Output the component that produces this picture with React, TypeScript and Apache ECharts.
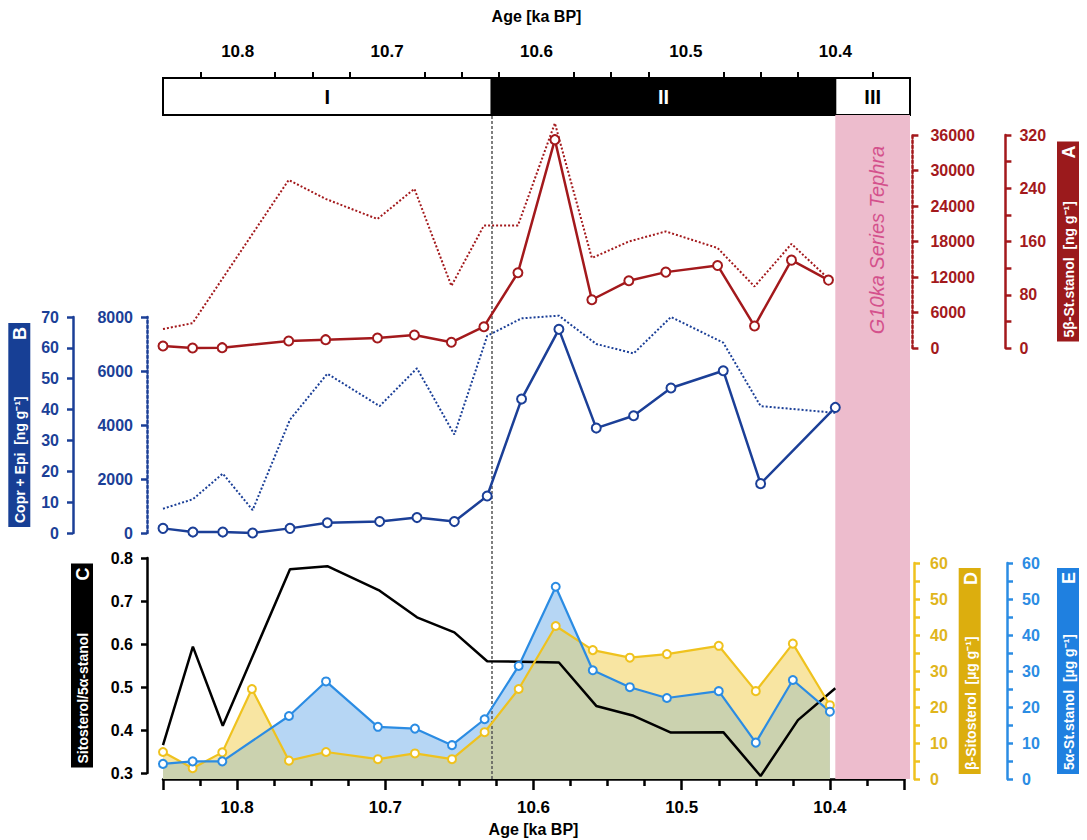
import React, { useEffect, useRef } from 'react';
import * as echarts from 'echarts';

const FONT = "'Liberation Sans', Arial, sans-serif";

// ---- axis / layout constants (data-related) ----
const X_MIN = 10.35;
const X_MAX = 10.85;
const MAJOR_TICKS = [10.85, 10.8, 10.7, 10.6, 10.5, 10.4, 10.35];
const MINOR_TICKS = [10.825, 10.775, 10.75, 10.725, 10.675, 10.65, 10.625, 10.575, 10.55, 10.525, 10.475, 10.45, 10.425, 10.375];
const AGE_LABELS = [10.8, 10.7, 10.6, 10.5, 10.4];

const PHASE_NAMES = ['I', 'II', 'III'];
const PHASE_BOUNDS = [10.85, 10.63, 10.4, 10.35];
const TEPHRA = [10.4, 10.35];
const BOUNDARY_AGE = 10.63;

// ---- panel A (red) ----
const AGE_A = [10.85, 10.83, 10.81, 10.765, 10.74, 10.705, 10.68, 10.655, 10.633, 10.61, 10.585, 10.56, 10.535, 10.51, 10.475, 10.45, 10.425, 10.4];
const STANOL_5B = [3, 0, 0.5, 10.5, 12.5, 15, 19.5, 8.6, 32, 113, 313, 72.5, 101, 114, 124, 33, 132, 102];
const AGE_A_DOT = [10.85, 10.83, 10.765, 10.74, 10.705, 10.68, 10.655, 10.633, 10.61, 10.585, 10.56, 10.535, 10.51, 10.475, 10.45, 10.425, 10.4];
const STANOL_5B_DOT = [3200, 4200, 28400, 25200, 21800, 26900, 10500, 20700, 20700, 38000, 15200, 18000, 19700, 16900, 10400, 17600, 11700];

// ---- panel B (navy) ----
const AGE_B = [10.85, 10.83, 10.81, 10.79, 10.765, 10.74, 10.705, 10.68, 10.655, 10.633, 10.61, 10.585, 10.56, 10.535, 10.51, 10.475, 10.45, 10.4];
const COPR_EPI = [1.5, 0.3, 0.3, 0, 1.5, 3.3, 3.7, 5, 3.7, 12, 43.4, 66, 34, 38, 47, 52.6, 16, 40.7];
const COPR_EPI_DOT = [900, 1250, 2200, 850, 4200, 5900, 4700, 6100, 3650, 7300, 7950, 8050, 7000, 6650, 8000, 7050, 4700, 4450];

// ---- panel C (ratio) ----
const AGE_C = [10.85, 10.83, 10.81, 10.765, 10.74, 10.705, 10.68, 10.655, 10.633, 10.585, 10.56, 10.535, 10.51, 10.475, 10.45, 10.425, 10.4];
const RATIO = [0.365, 0.594, 0.41, 0.774, 0.781, 0.724, 0.662, 0.627, 0.56, 0.557, 0.456, 0.433, 0.394, 0.395, 0.293, 0.423, 0.497];

// ---- panel D (β-sitosterol) ----
const AGE_D = [10.85, 10.83, 10.81, 10.79, 10.765, 10.74, 10.705, 10.68, 10.655, 10.633, 10.61, 10.585, 10.56, 10.535, 10.51, 10.475, 10.45, 10.425, 10.4];
const SITOSTEROL = [7.5, 3, 7.4, 25, 5.1, 7.5, 5.5, 7.1, 5.5, 13, 25, 42.5, 35.8, 33.7, 34.7, 37, 24.4, 37.6, 20.5];

// ---- panel E (5α-stanol) ----
const AGE_E = [10.85, 10.83, 10.81, 10.765, 10.74, 10.705, 10.68, 10.655, 10.633, 10.61, 10.585, 10.56, 10.535, 10.51, 10.475, 10.45, 10.425, 10.4];
const STANOL_5A = [4.2, 4.9, 4.9, 17.5, 27.1, 14.5, 14, 9.4, 16.6, 31.4, 53.4, 30.2, 25.5, 22.5, 24.4, 10.1, 27.5, 18.7];

const RED = '#a3191c';
const NAVY = '#1b3f97';
const YEL = '#efc21e';
const YEL_TXT = '#e0b51c';
const SKY = '#2b8ce3';

const pairs = (xs: number[], ys: number[]) => xs.map((x, i) => [x, ys[i]]);

// Outline of the region that lies under both filled curves (used only to colour the overlap)
function valueAt(xs: number[], ys: number[], x: number) {
  for (let i = 0; i < xs.length - 1; i++) {
    const a = xs[i], b = xs[i + 1];
    if ((x <= a && x >= b) || (x >= a && x <= b)) {
      if (a === b) return ys[i];
      return ys[i] + ((x - a) / (b - a)) * (ys[i + 1] - ys[i]);
    }
  }
  return ys[ys.length - 1];
}
function overlapOutline(xa: number[], ya: number[], xb: number[], yb: number[]) {
  const xs = Array.from(new Set([...xa, ...xb])).sort((p, q) => q - p);
  const out: number[][] = [];
  for (let i = 0; i < xs.length; i++) {
    const x0 = xs[i];
    const a0 = valueAt(xa, ya, x0), b0 = valueAt(xb, yb, x0);
    out.push([x0, Math.min(a0, b0)]);
    if (i < xs.length - 1) {
      const x1 = xs[i + 1];
      const a1 = valueAt(xa, ya, x1), b1 = valueAt(xb, yb, x1);
      const d0 = a0 - b0, d1 = a1 - b1;
      if (d0 * d1 < 0) {
        const t = d0 / (d0 - d1);
        out.push([x0 + t * (x1 - x0), a0 + t * (a1 - a0)]);
      }
    }
  }
  return out;
}

const GRID_LR = { left: 163, right: 177 };

function hiddenX(gridIndex: number) {
  return { type: 'value', gridIndex, min: X_MIN, max: X_MAX, inverse: true, show: false, splitLine: { show: false } };
}

function boxName(text: string, letter: string, bg: string, textW: number) {
  return {
    name: `{t|${text}}{l|${letter}}`,
    nameLocation: 'middle',
    nameRotate: 90,
    nameTextStyle: {
      backgroundColor: bg,
      padding: [3, 4, 1, 4],
      rich: {
        t: { color: '#fff', fontSize: 14, fontWeight: 'bold', fontFamily: FONT, width: textW, align: 'left' },
        l: { color: '#fff', fontSize: 18, fontWeight: 'bold', fontFamily: FONT, width: 20, align: 'right' },
      },
    },
  };
}

function valAxis(opts: any) {
  const color = opts.color;
  return {
    type: 'value',
    gridIndex: opts.grid,
    position: opts.position,
    offset: opts.offset,
    min: opts.min,
    max: opts.max,
    interval: opts.interval,
    splitLine: { show: false },
    axisLine: { show: true, lineStyle: { color, width: 2.5, type: opts.dotted ? 'dotted' : 'solid' } },
    axisTick: { show: true, length: 6, lineStyle: { color, width: 2.5 } },
    minorTick: opts.minor ? { show: true, splitNumber: 2, length: 6, lineStyle: { color, width: 2.5 } } : { show: false },
    axisLabel: {
      color: opts.labelColor || color,
      fontWeight: 'bold',
      fontSize: 16,
      fontFamily: FONT,
      margin: opts.margin,
      formatter: opts.formatter || ((v: number) => String(v)),
    },
    ...(opts.box || {}),
    nameGap: opts.nameGap,
  };
}

export default function App() {
  const ref = useRef<HTMLDivElement>(null);

  useEffect(() => {
    document.body.style.margin = '0';
    const chart = echarts.init(ref.current!, null, { renderer: 'svg' });

    const labelStyle = { color: '#000', fontWeight: 'bold', fontSize: 17, fontFamily: FONT };
    const nameStyle = { color: '#000', fontWeight: 'bold', fontSize: 16, fontFamily: FONT };

    const phaseAreas = PHASE_NAMES.map((n, i) => {
      const dark = n === 'II';
      return [
        {
          name: n,
          xAxis: PHASE_BOUNDS[i],
          itemStyle: { color: dark ? '#000' : '#fff', borderColor: '#000', borderWidth: 2 },
          label: { color: dark ? '#fff' : '#000' },
        },
        { xAxis: PHASE_BOUNDS[i + 1] },
      ];
    });

    const overlap = overlapOutline(AGE_D, SITOSTEROL, AGE_E, STANOL_5A);

    const option: any = {
      animation: false,
      backgroundColor: '#fff',
      grid: [
        { ...GRID_LR, top: 78, height: 37 }, // 0 phases
        { ...GRID_LR, top: 115, height: 664 }, // 1 background
        { ...GRID_LR, top: 135, height: 213 }, // 2 red
        { ...GRID_LR, top: 317, height: 216 }, // 3 navy
        { ...GRID_LR, top: 558, height: 215 }, // 4 ratio
        { ...GRID_LR, top: 563, height: 216 }, // 5 D/E
      ],
      xAxis: [
        {
          type: 'value', gridIndex: 0, position: 'top', min: X_MIN, max: X_MAX, inverse: true,
          splitLine: { show: false },
          axisLine: { show: true, lineStyle: { color: '#000', width: 2 } },
          axisTick: { show: true, customValues: MAJOR_TICKS, length: 11, lineStyle: { color: '#000', width: 2 } },
          axisLabel: { ...labelStyle, customValues: AGE_LABELS, formatter: (v: number) => v.toFixed(1), margin: 18 },
          name: 'Age [ka BP]', nameLocation: 'middle', nameGap: 54, nameTextStyle: nameStyle,
        },
        {
          type: 'value', gridIndex: 0, position: 'top', min: X_MIN, max: X_MAX, inverse: true,
          splitLine: { show: false },
          axisLine: { show: false },
          axisTick: { show: true, customValues: MINOR_TICKS, length: 6, lineStyle: { color: '#000', width: 2 } },
          axisLabel: { show: false },
        },
        hiddenX(1),
        hiddenX(2),
        hiddenX(3),
        hiddenX(4),
        {
          type: 'value', gridIndex: 5, position: 'bottom', min: X_MIN, max: X_MAX, inverse: true,
          splitLine: { show: false },
          axisLine: { show: true, lineStyle: { color: '#000', width: 2.5 } },
          axisTick: { show: true, customValues: MAJOR_TICKS, length: 11, lineStyle: { color: '#000', width: 2.5 } },
          axisLabel: { ...labelStyle, customValues: AGE_LABELS, formatter: (v: number) => v.toFixed(1), margin: 20 },
          name: 'Age [ka BP]', nameLocation: 'middle', nameGap: 42, nameTextStyle: nameStyle,
        },
        {
          type: 'value', gridIndex: 5, position: 'bottom', min: X_MIN, max: X_MAX, inverse: true,
          splitLine: { show: false },
          axisLine: { show: false },
          axisTick: { show: true, customValues: MINOR_TICKS, length: 7, lineStyle: { color: '#000', width: 2.5 } },
          axisLabel: { show: false },
        },
      ],
      yAxis: [
        { type: 'value', gridIndex: 0, min: 0, max: 1, show: false, splitLine: { show: false } },
        { type: 'value', gridIndex: 1, min: 0, max: 1, show: false, splitLine: { show: false } },
        valAxis({ grid: 2, position: 'right', offset: 10, min: 0, max: 36000, interval: 6000, color: RED, dotted: true, margin: 18 }),
        valAxis({
          grid: 2, position: 'right', offset: 103, min: 0, max: 320, interval: 40, color: RED, margin: 14,
          formatter: (v: number) => (v % 80 === 0 ? String(v) : ''),
          box: boxName('5β-St.stanol  [ng g⁻¹]', 'A', '#9b1a1c', 172), nameGap: 50,
        }),
        valAxis({
          grid: 3, position: 'left', offset: 90, min: 0, max: 70, interval: 10, color: NAVY, margin: 14,
          box: boxName('Copr + Epi  [ng g⁻¹]', 'B', '#173f95', 176), nameGap: 42,
        }),
        valAxis({ grid: 3, position: 'left', offset: 16, min: 0, max: 8000, interval: 2000, color: NAVY, dotted: true, margin: 14 }),
        valAxis({
          grid: 4, position: 'left', offset: 16, min: 0.3, max: 0.8, interval: 0.1, color: '#000', margin: 14,
          formatter: (v: number) => v.toFixed(1),
          box: boxName('Sitosterol/5α-stanol', 'C', '#000', 176), nameGap: 54,
        }),
        valAxis({
          grid: 5, position: 'right', offset: 10, min: 0, max: 60, interval: 10, color: YEL, labelColor: YEL_TXT, margin: 16, minor: true,
          box: boxName('β-Sitosterol  [µg g⁻¹]', 'D', '#dcae0e', 178), nameGap: 42,
        }),
        valAxis({
          grid: 5, position: 'right', offset: 103, min: 0, max: 60, interval: 10, color: SKY, margin: 15, minor: true,
          box: boxName('5α-St.stanol  [µg g⁻¹]', 'E', '#1f80e0', 178), nameGap: 50,
        }),
      ],
      graphic: [
        {
          type: 'text', x: 877, y: 240, rotation: Math.PI / 2,
          style: {
            text: 'G10ka Series Tephra', fill: '#d4518c', fontSize: 20, fontStyle: 'italic',
            fontFamily: FONT, align: 'center', verticalAlign: 'middle',
          },
          z: 10,
        },
      ],
      series: [
        {
          type: 'line', xAxisIndex: 0, yAxisIndex: 0, data: [], silent: true,
          markArea: {
            silent: true,
            label: { show: true, position: 'inside', fontSize: 20, fontWeight: 'bold', fontFamily: FONT },
            data: phaseAreas,
          },
        },
        {
          type: 'line', xAxisIndex: 2, yAxisIndex: 1, data: [], silent: true, z: 3,
          markArea: {
            silent: true,
            itemStyle: { color: '#edbccd' },
            data: [[{ xAxis: TEPHRA[0] }, { xAxis: TEPHRA[1] }]],
          },
          markLine: {
            silent: true, symbol: ['none', 'none'], label: { show: false },
            lineStyle: { color: '#555', width: 1.5, type: [3, 2] },
            data: [{ xAxis: BOUNDARY_AGE }],
          },
        },
        // Panel A
        {
          name: '5β-St.stanol (dotted)', type: 'line', xAxisIndex: 3, yAxisIndex: 2, clip: false, z: 4,
          data: pairs(AGE_A_DOT, STANOL_5B_DOT), showSymbol: false, symbol: 'none',
          lineStyle: { color: RED, width: 2, type: 'dotted' },
        },
        {
          name: '5β-St.stanol', type: 'line', xAxisIndex: 3, yAxisIndex: 3, clip: false, z: 5,
          data: pairs(AGE_A, STANOL_5B), symbol: 'emptyCircle', symbolSize: 9,
          lineStyle: { color: RED, width: 2.5 }, itemStyle: { color: RED, borderWidth: 2 },
        },
        // Panel B
        {
          name: 'Copr + Epi (dotted)', type: 'line', xAxisIndex: 4, yAxisIndex: 5, clip: false, z: 4,
          data: pairs(AGE_B, COPR_EPI_DOT), symbol: 'none',
          lineStyle: { color: NAVY, width: 2, type: 'dotted' },
        },
        {
          name: 'Copr + Epi', type: 'line', xAxisIndex: 4, yAxisIndex: 4, clip: false, z: 5,
          data: pairs(AGE_B, COPR_EPI), symbol: 'emptyCircle', symbolSize: 9,
          lineStyle: { color: NAVY, width: 2.5 }, itemStyle: { color: NAVY, borderWidth: 2 },
        },
        // Panels D/E fills
        {
          type: 'line', xAxisIndex: 6, yAxisIndex: 7, z: 1, silent: true,
          data: pairs(AGE_D, SITOSTEROL), symbol: 'none', lineStyle: { width: 0 },
          areaStyle: { color: '#f8e5a2', opacity: 1 },
        },
        {
          type: 'line', xAxisIndex: 6, yAxisIndex: 8, z: 1, silent: true,
          data: pairs(AGE_E, STANOL_5A), symbol: 'none', lineStyle: { width: 0 },
          areaStyle: { color: '#b6d6f4', opacity: 1 },
        },
        {
          type: 'line', xAxisIndex: 6, yAxisIndex: 7, z: 2, silent: true,
          data: overlap, symbol: 'none', lineStyle: { width: 0 },
          areaStyle: { color: '#cbd2af', opacity: 1 },
        },
        // Panel C
        {
          name: 'Sitosterol/5α-stanol', type: 'line', xAxisIndex: 5, yAxisIndex: 6, clip: false, z: 5,
          data: pairs(AGE_C, RATIO), symbol: 'none',
          lineStyle: { color: '#000', width: 2.5 },
        },
        // Panel D/E lines
        {
          name: 'β-Sitosterol', type: 'line', xAxisIndex: 6, yAxisIndex: 7, clip: false, z: 6,
          data: pairs(AGE_D, SITOSTEROL), symbol: 'emptyCircle', symbolSize: 8,
          lineStyle: { color: YEL, width: 2.2 }, itemStyle: { color: YEL, borderWidth: 2 },
        },
        {
          name: '5α-St.stanol', type: 'line', xAxisIndex: 6, yAxisIndex: 8, clip: false, z: 6,
          data: pairs(AGE_E, STANOL_5A), symbol: 'emptyCircle', symbolSize: 8,
          lineStyle: { color: SKY, width: 2.2 }, itemStyle: { color: SKY, borderWidth: 2 },
        },
      ],
    };

    chart.setOption(option);
    return () => chart.dispose();
  }, []);

  return <div ref={ref} style={{ width: 1087, height: 840 }} />;
}
